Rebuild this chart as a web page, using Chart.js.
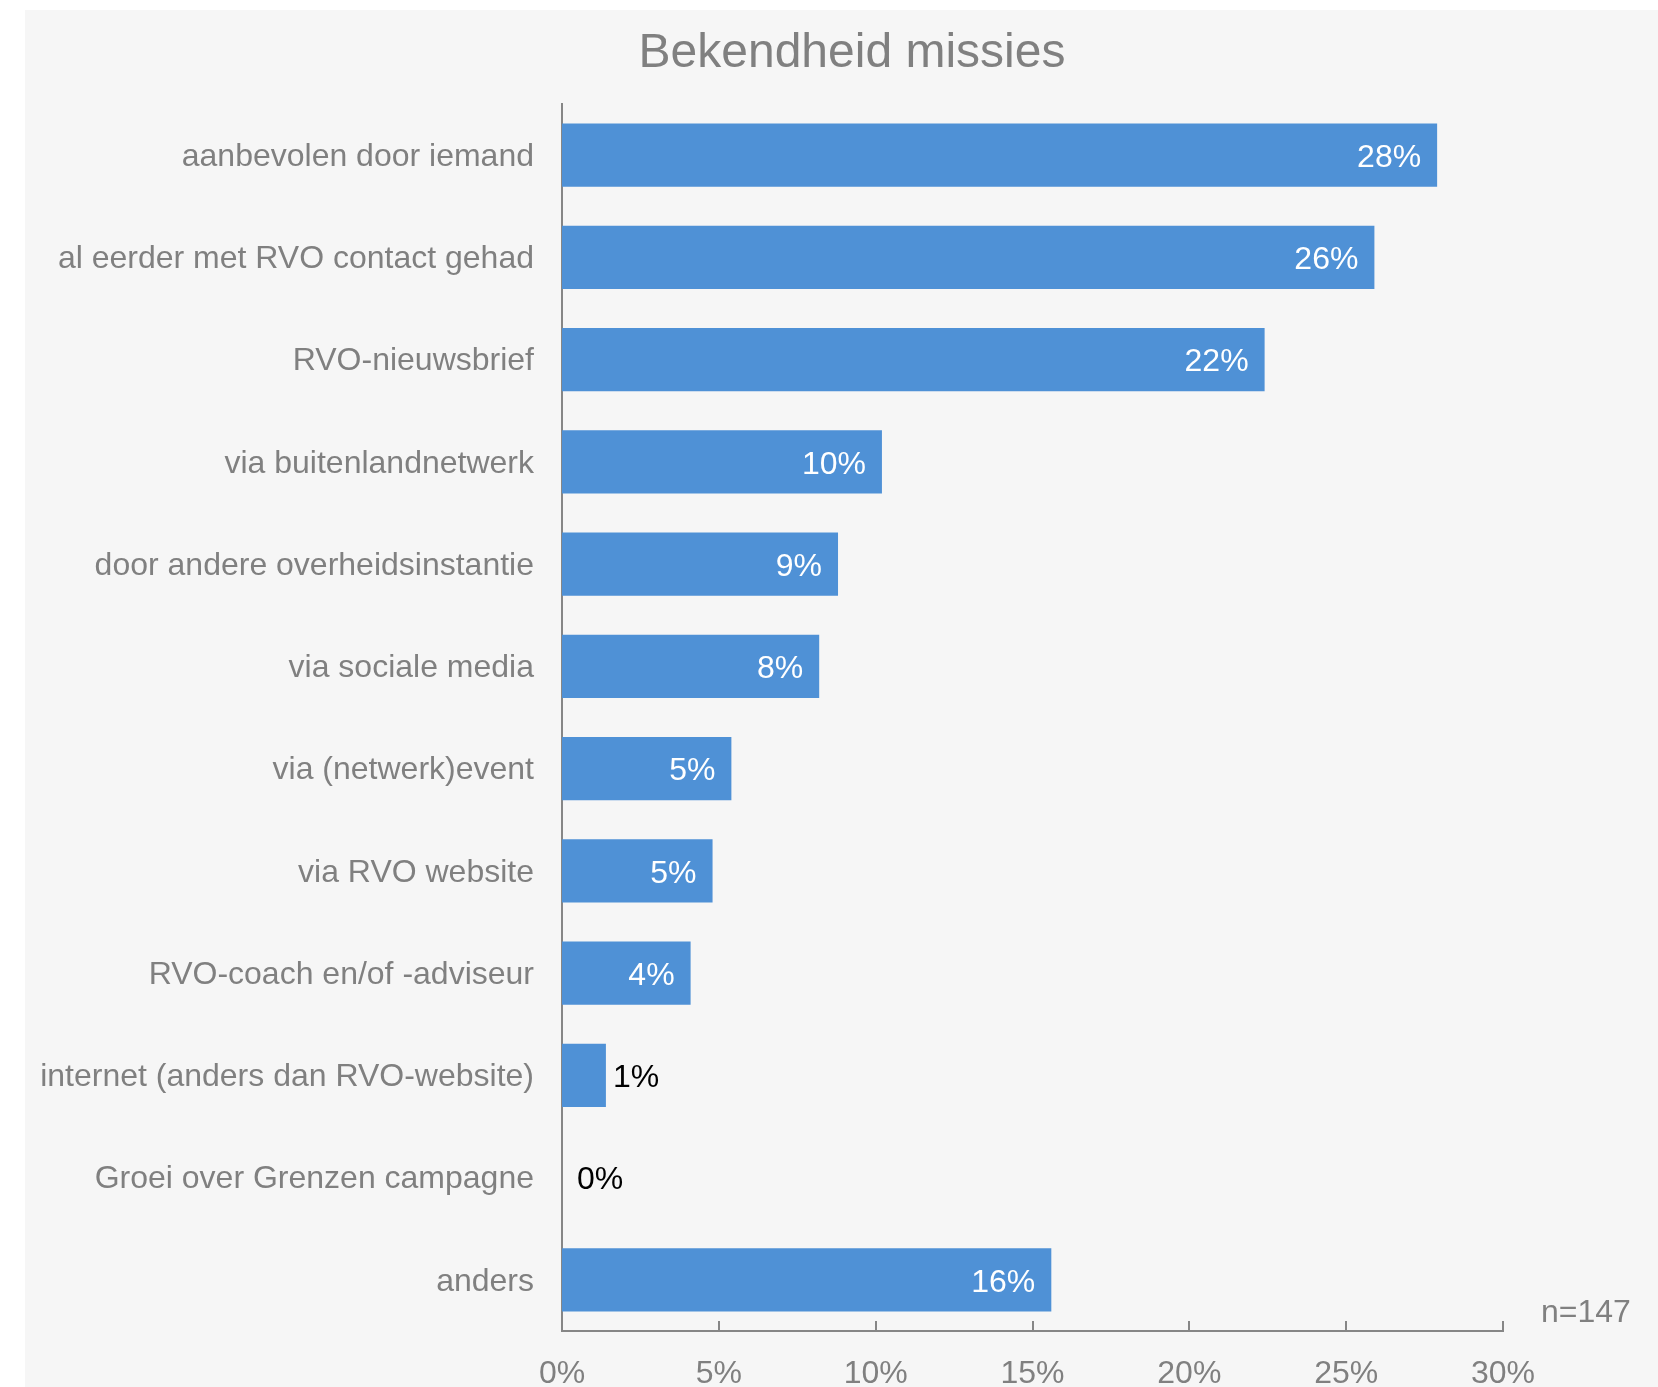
<!DOCTYPE html>
<html>
<head>
<meta charset="utf-8">
<script src="https://cdn.jsdelivr.net/npm/chart.js@4.4.1/dist/chart.umd.min.js"></script>
<style>
  body { margin: 0; background: #ffffff; }
  canvas { display: block; }
</style>
</head>
<body>
<canvas id="missies" width="1658" height="1387"></canvas>
<script>
var categories = [
  "aanbevolen door iemand",
  "al eerder met RVO contact gehad",
  "RVO-nieuwsbrief",
  "via buitenlandnetwerk",
  "door andere overheidsinstantie",
  "via sociale media",
  "via (netwerk)event",
  "via RVO website",
  "RVO-coach en/of -adviseur",
  "internet (anders dan RVO-website)",
  "Groei over Grenzen campagne",
  "anders"
];
var percentages = [27.9, 25.9, 22.4, 10.2, 8.8, 8.2, 5.4, 4.8, 4.1, 1.4, 0, 15.6];
var xMax = 30;
var xStep = 5;
var title = "Bekendheid missies";
var sampleNote = "n=147";

var greyText = "#808080";
var axisGrey = "#868686";
var barBlue = "#4f91d6";
var font = "'Liberation Sans', Arial, sans-serif";

var extras = {
  id: "extras",
  beforeDraw: function(chart) {
    var ctx = chart.ctx;
    ctx.save();
    ctx.fillStyle = "#f6f6f6";
    ctx.fillRect(25, 10, chart.width - 25, chart.height - 10);
    ctx.fillStyle = greyText;
    ctx.font = "48px " + font;
    ctx.textAlign = "center";
    ctx.textBaseline = "alphabetic";
    ctx.fillText(title, 852, 67);
    ctx.restore();
  },
  afterDatasetsDraw: function(chart) {
    var ctx = chart.ctx;
    var bars = chart.getDatasetMeta(0).data;
    var base = chart.scales.x.getPixelForValue(0);
    ctx.save();
    ctx.font = "32px " + font;
    ctx.textBaseline = "middle";
    bars.forEach(function(bar, i) {
      var v = percentages[i];
      var txt = Math.round(v) + "%";
      if (v >= 3) {
        ctx.fillStyle = "#ffffff";
        ctx.textAlign = "right";
        ctx.fillText(txt, bar.x - 16, bar.y + 3);
      } else {
        ctx.fillStyle = "#000000";
        ctx.textAlign = "left";
        ctx.fillText(txt, Math.max(bar.x + 7, base + 15), bar.y + 3);
      }
    });
    ctx.restore();
  },
  afterDraw: function(chart) {
    var ctx = chart.ctx;
    var xs = chart.scales.x;
    ctx.save();
    ctx.strokeStyle = axisGrey;
    ctx.lineWidth = 2;
    xs.ticks.forEach(function(t) {
      var px = Math.round(xs.getPixelForValue(t.value));
      ctx.beginPath();
      ctx.moveTo(px, xs.top);
      ctx.lineTo(px, xs.top - 10);
      ctx.stroke();
    });
    ctx.fillStyle = greyText;
    ctx.font = "32px " + font;
    ctx.textAlign = "left";
    ctx.textBaseline = "alphabetic";
    ctx.fillText(sampleNote, 1541, 1322);
    ctx.restore();
  }
};

var config = {
  type: "bar",
  data: {
    labels: categories,
    datasets: [{
      data: percentages,
      backgroundColor: barBlue,
      borderWidth: 0,
      categoryPercentage: 1,
      barPercentage: 0.62
    }]
  },
  options: {
    indexAxis: "y",
    responsive: false,
    animation: false,
    devicePixelRatio: 1,
    layout: { padding: { top: 104, right: 155, bottom: 0, left: 0 } },
    plugins: {
      legend: { display: false },
      title: { display: false },
      tooltip: { enabled: false }
    },
    scales: {
      x: {
        min: 0,
        max: xMax,
        afterFit: function(scale) { scale.height = 56; },
        grid: { display: false, drawTicks: false },
        border: { display: true, color: axisGrey, width: 2 },
        ticks: {
          stepSize: xStep,
          padding: 24,
          color: greyText,
          font: { family: font, size: 32 },
          callback: function(v) { return v + "%"; }
        }
      },
      y: {
        afterFit: function(scale) { scale.width = 562; },
        grid: { display: false, drawTicks: false },
        border: { display: true, color: axisGrey, width: 2 },
        ticks: {
          padding: 28,
          labelOffset: 2,
          color: greyText,
          font: { family: font, size: 32 }
        }
      }
    }
  },
  plugins: [extras]
};

var barChart = new Chart(document.getElementById("missies"), config);
</script>
</body>
</html>
